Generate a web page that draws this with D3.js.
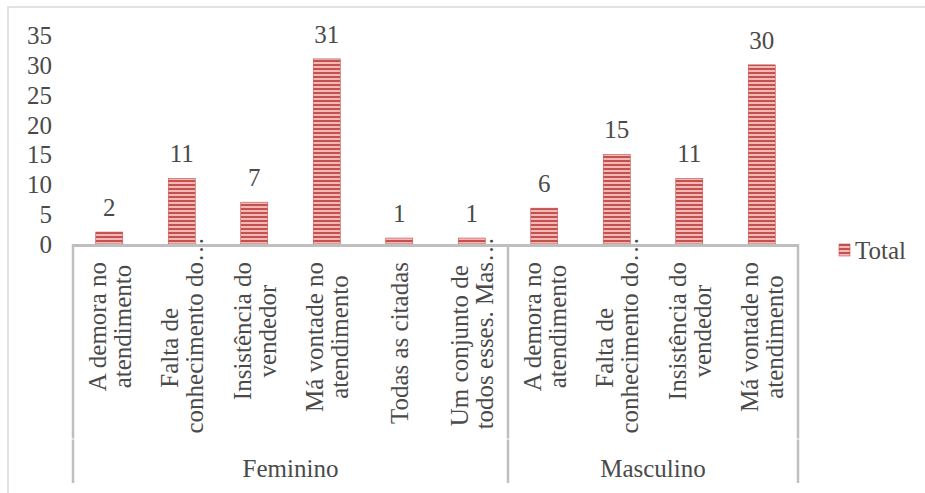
<!DOCTYPE html>
<html>
<head>
<meta charset="utf-8">
<script src="https://cdnjs.cloudflare.com/ajax/libs/d3/7.8.5/d3.min.js"></script>
<style>
  html, body { margin: 0; padding: 0; background: #fff; }
  svg text { font-family: "Liberation Serif", "DejaVu Serif", serif; fill: #4a4a4a; }
</style>
</head>
<body>
<svg id="chart" width="925" height="493"></svg>
<script>
// Reasons cited, split by respondent gender
const groups = ["Feminino", "Masculino"];
const catGroup = [0, 0, 0, 0, 0, 0, 1, 1, 1, 1];
const catLabels = [
  ["A demora no", "atendimento"],
  ["Falta de", "conhecimento do…"],
  ["Insistência do", "vendedor"],
  ["Má vontade no", "atendimento"],
  ["Todas as citadas"],
  ["Um conjunto de", "todos esses. Mas…"],
  ["A demora no", "atendimento"],
  ["Falta de", "conhecimento do…"],
  ["Insistência do", "vendedor"],
  ["Má vontade no", "atendimento"]
];
const totals = [2, 11, 7, 31, 1, 1, 6, 15, 11, 30];
const yTicks = [0, 5, 10, 15, 20, 25, 30, 35];
const seriesName = "Total";

const svg = d3.select("#chart");
const fontSize = 25;
const axisColor = "#bfbfbf";

// chart frame
svg.append("rect")
  .attr("x", 8).attr("y", 7).attr("width", 940).attr("height", 520)
  .attr("fill", "none").attr("stroke", "#d9d9d9").attr("stroke-width", 1.5);

// striped fill for the bars
const defs = svg.append("defs");
const pat = defs.append("pattern")
  .attr("id", "stripes").attr("patternUnits", "userSpaceOnUse")
  .attr("width", 8).attr("height", 4);
pat.append("rect").attr("width", 8).attr("height", 4).attr("fill", "#f0b9b7");
pat.append("rect").attr("width", 8).attr("height", 2).attr("fill", "#c4514e");

const x = d3.scaleBand().domain(d3.range(totals.length)).range([73, 798]).padding(0);
const y = d3.scaleLinear().domain([0, 35]).range([244, 35]);
const barW = 27;

// value axis: labels only
const yAxis = svg.append("g")
  .attr("transform", "translate(52,0)")
  .call(d3.axisLeft(y).tickValues(yTicks).tickSize(0).tickPadding(0));
yAxis.select(".domain").remove();
yAxis.selectAll("text")
  .attr("font-family", null).attr("font-size", fontSize).attr("fill", "#4a4a4a")
  .attr("dy", null).attr("dominant-baseline", "central");

// bars
svg.append("g").selectAll("rect")
  .data(totals)
  .join("rect")
  .attr("x", (d, i) => x(i) + x.bandwidth() / 2 - barW / 2)
  .attr("y", d => y(d))
  .attr("width", barW)
  .attr("height", d => y(0) - y(d))
  .attr("fill", "url(#stripes)")
  .attr("stroke", "#c0504d").attr("stroke-width", 0.6);

// value labels
svg.append("g").selectAll("text")
  .data(totals)
  .join("text")
  .attr("x", (d, i) => x(i) + x.bandwidth() / 2)
  .attr("y", d => y(d) - 16)
  .attr("text-anchor", "middle")
  .attr("font-size", fontSize)
  .text(d => d);

// category axis baseline and group dividers
const axisG = svg.append("g");
axisG.append("line")
  .attr("x1", x(0) - 1).attr("x2", x(totals.length - 1) + x.bandwidth() + 1)
  .attr("y1", y(0) + 1.5).attr("y2", y(0) + 1.5)
  .attr("stroke", axisColor).attr("stroke-width", 3);

const bounds = [0];
catGroup.forEach((g, i) => { if (i > 0 && g !== catGroup[i - 1]) bounds.push(i); });
bounds.push(catGroup.length);
const bx = bounds.map(b => b < catGroup.length ? x(b) : x(b - 1) + x.bandwidth());
// inner level (categories) and outer level (groups) drawn as separate segments
[[y(0), 438.5], [439.5, 483]].forEach(([y1, y2]) => {
  axisG.append("g").selectAll("line")
    .data(bx)
    .join("line")
    .attr("x1", d => d).attr("x2", d => d)
    .attr("y1", y1).attr("y2", y2)
    .attr("stroke", axisColor).attr("stroke-width", 2.5);
});

// rotated category labels: block aligned to the top, lines centred on each other,
// a trailing ellipsis is left to run past the block edge
const labelTop = 262;
const lineGap = 25;
catLabels.forEach((lines, i) => {
  const cx = x(i) + x.bandwidth() / 2;
  const g = svg.append("g").attr("transform", `translate(${cx},${labelTop}) rotate(-90)`);
  const t = g.selectAll("text")
    .data(lines)
    .join("text")
    .attr("font-size", fontSize)
    .attr("text-anchor", "start")
    .attr("dominant-baseline", "central")
    .attr("y", (d, k) => (k - (lines.length - 1) / 2) * lineGap + 0.5)
    .text(d => d);
  const widths = [];
  t.each(function (d) {
    const n = d.endsWith("…") ? d.length - 1 : d.length;
    widths.push(n > 0 ? this.getSubStringLength(0, n) : 0);
  });
  const maxW = d3.max(widths);
  t.attr("x", (d, k) => -maxW / 2 - widths[k] / 2);
});

// group labels
svg.append("g").selectAll("text")
  .data(groups)
  .join("text")
  .attr("x", (d, k) => (bx[k] + bx[k + 1]) / 2)
  .attr("y", 468)
  .attr("text-anchor", "middle")
  .attr("dominant-baseline", "central")
  .attr("font-size", fontSize)
  .text(d => d);

// legend
const lg = svg.append("g").attr("transform", "translate(839,244)");
lg.append("rect").attr("width", 11).attr("height", 12)
  .attr("fill", "url(#stripes)").attr("stroke", "#c0504d").attr("stroke-width", 0.6);
lg.append("text").attr("x", 16).attr("y", 6)
  .attr("dominant-baseline", "central")
  .attr("font-size", fontSize)
  .text(seriesName);
</script>
</body>
</html>
